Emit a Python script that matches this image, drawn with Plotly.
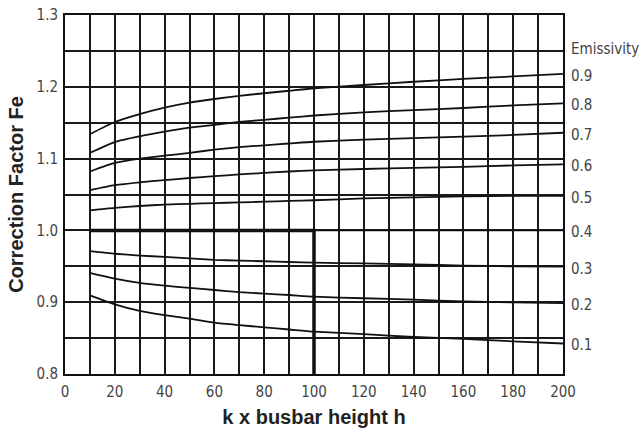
import plotly.graph_objects as go

# ---- data ----
x_vals = [10, 20, 30, 40, 50, 60, 70, 80, 90, 100, 120, 140, 160, 180, 200]
emissivities = ["0.9", "0.8", "0.7", "0.6", "0.5", "0.4", "0.3", "0.2", "0.1"]
fe_09 = [1.134, 1.151, 1.162, 1.171, 1.178, 1.183, 1.1875, 1.191, 1.1945, 1.198, 1.2025, 1.207, 1.211, 1.2145, 1.218]
fe_08 = [1.108, 1.123, 1.131, 1.1375, 1.143, 1.147, 1.151, 1.154, 1.157, 1.160, 1.1645, 1.1675, 1.1705, 1.174, 1.177]
fe_07 = [1.082, 1.094, 1.100, 1.104, 1.108, 1.1125, 1.116, 1.1185, 1.121, 1.1235, 1.1265, 1.1285, 1.1305, 1.133, 1.136]
fe_06 = [1.056, 1.063, 1.067, 1.070, 1.073, 1.0755, 1.078, 1.080, 1.082, 1.0835, 1.0855, 1.087, 1.0885, 1.0905, 1.092]
fe_05 = [1.028, 1.0315, 1.034, 1.036, 1.037, 1.038, 1.039, 1.040, 1.041, 1.042, 1.0445, 1.046, 1.0475, 1.048, 1.048]
fe_04 = [1.0, 1.0, 1.0, 1.0, 1.0, 1.0, 1.0, 1.0, 1.0, 1.0, 1.0, 1.0, 1.0, 1.0, 1.0]
fe_03 = [0.971, 0.9675, 0.965, 0.963, 0.961, 0.959, 0.958, 0.957, 0.956, 0.955, 0.954, 0.9526, 0.951, 0.950, 0.9495]
fe_02 = [0.941, 0.933, 0.927, 0.923, 0.920, 0.917, 0.914, 0.912, 0.910, 0.9077, 0.9055, 0.9035, 0.901, 0.8998, 0.8987]
fe_01 = [0.9095, 0.897, 0.888, 0.882, 0.877, 0.8715, 0.868, 0.865, 0.862, 0.859, 0.8555, 0.8515, 0.849, 0.8455, 0.8425]
curves = [fe_09, fe_08, fe_07, fe_06, fe_05, fe_04, fe_03, fe_02, fe_01]

example_x = [10, 100, 100]
example_y = [1.0, 1.0, 0.8]

x_ticks = [0, 20, 40, 60, 80, 100, 120, 140, 160, 180, 200]
y_ticks = [0.8, 0.9, 1.0, 1.1, 1.2, 1.3]
legend_title = "Emissivity"
legend_title_y = 1.2555

FONT = "DejaVu Sans Condensed, Liberation Sans Narrow, Roboto, sans-serif"
BOLD = "Liberation Sans, Arial, sans-serif"
TXT = "#444444"

fig = go.Figure()
for e, ys in zip(emissivities, curves):
    fig.add_trace(go.Scatter(x=x_vals, y=ys, mode="lines",
                             line=dict(color="#111111", width=1.8, shape="spline", smoothing=0.6),
                             hoverinfo="skip", showlegend=False))
fig.add_trace(go.Scatter(x=example_x, y=example_y, mode="lines",
                         line=dict(color="#111111", width=3.5),
                         hoverinfo="skip", showlegend=False))

annotations = []
for e, ys in zip(emissivities, curves):
    annotations.append(dict(x=1, xref="paper", y=ys[-1], yref="y", text=e,
                            showarrow=False, xanchor="left", yanchor="middle", xshift=6, yshift=-2,
                            font=dict(family=FONT, size=15, color=TXT)))
annotations.append(dict(x=1, xref="paper", y=legend_title_y, yref="y", text=legend_title,
                        showarrow=False, xanchor="left", yanchor="middle", xshift=6, yshift=-2,
                        font=dict(family=FONT, size=15, color=TXT)))

fig.update_layout(
    width=643, height=428,
    margin=dict(l=65, r=80, t=15, b=54),
    plot_bgcolor="white", paper_bgcolor="white",
    annotations=annotations,
    font=dict(family=FONT, color=TXT),
)
fig.update_xaxes(range=[0, 200], tickvals=x_ticks, ticktext=[str(v) for v in x_ticks],
                 showgrid=True, gridcolor="#1a1a1a", gridwidth=1.6,
                 minor=dict(dtick=10, showgrid=True, gridcolor="#1a1a1a", gridwidth=1.6),
                 showline=True, linecolor="#111111", linewidth=2, mirror=True,
                 ticks="", zeroline=False, ticklabelstandoff=3, automargin=False,
                 tickfont=dict(family=FONT, size=15, color=TXT),
                 title=dict(text="<b>k x busbar height h</b>", standoff=14,
                            font=dict(family=BOLD, size=20, color="#222222")))
fig.update_yaxes(range=[0.8, 1.3], tickvals=y_ticks, ticktext=[f"{v:.1f}" for v in y_ticks],
                 showgrid=True, gridcolor="#1a1a1a", gridwidth=1.6,
                 minor=dict(dtick=0.05, showgrid=True, gridcolor="#1a1a1a", gridwidth=1.6),
                 showline=True, linecolor="#111111", linewidth=2, mirror=True,
                 ticks="", zeroline=False, ticklabelstandoff=2, automargin=False,
                 tickfont=dict(family=FONT, size=15, color=TXT),
                 title=dict(text="<b>Correction Factor Fe</b>", standoff=8,
                            font=dict(family=BOLD, size=20, color="#222222")))

fig.write_html("out.html")
